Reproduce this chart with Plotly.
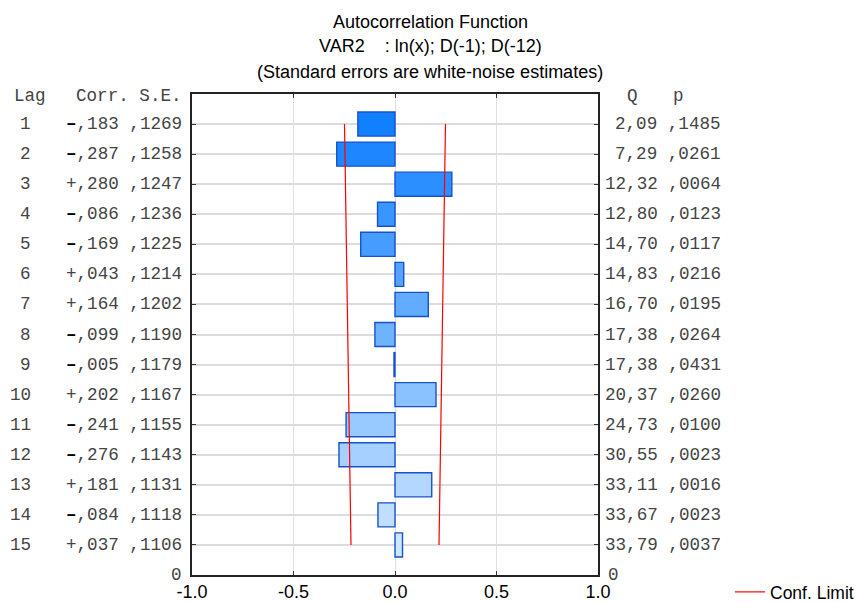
import plotly.graph_objects as go

lags = list(range(1, 16))
corr = [-0.183, -0.287, 0.280, -0.086, -0.169, 0.043, 0.164, -0.099, -0.005, 0.202,
        -0.241, -0.276, 0.181, -0.084, 0.037]
corr_text = ["-,183", "-,287", "+,280", "-,086", "-,169", "+,043", "+,164", "-,099", "-,005", "+,202",
             "-,241", "-,276", "+,181", "-,084", "+,037"]
se = [0.1269, 0.1258, 0.1247, 0.1236, 0.1225, 0.1214, 0.1202, 0.1190, 0.1179, 0.1167,
      0.1155, 0.1143, 0.1131, 0.1118, 0.1106]
se_text = [",1269", ",1258", ",1247", ",1236", ",1225", ",1214", ",1202", ",1190", ",1179", ",1167",
           ",1155", ",1143", ",1131", ",1118", ",1106"]
q_text = ["2,09", "7,29", "12,32", "12,80", "14,70", "14,83", "16,70", "17,38", "17,38", "20,37",
          "24,73", "30,55", "33,11", "33,67", "33,79"]
p_text = [",1485", ",0261", ",0064", ",0123", ",0117", ",0216", ",0195", ",0264", ",0431", ",0260",
          ",0100", ",0023", ",0016", ",0023", ",0037"]
x_ticks = [-1.0, -0.5, 0.0, 0.5, 1.0]
x_tick_labels = ["-1.0", "-0.5", "0.0", "0.5", "1.0"]

W, H = 858, 603
# plot-area geometry in page px
L, R, T, B = 192, 598, 94, 575

def px(x):
    return (x - L) / (R - L)

def py(y):
    return (B - y) / (B - T)

# bar colors: gradient dark -> light
c0 = (16, 128, 255)
c1 = (206, 230, 255)
n = len(lags)
colors = []
for i in range(n):
    t = i / (n - 1)
    c = tuple(round(c0[k] + (c1[k] - c0[k]) * t) for k in range(3))
    colors.append("rgb(%d,%d,%d)" % c)

fig = go.Figure()
fig.add_trace(go.Bar(
    x=corr, y=lags, orientation="h", width=0.8,
    marker=dict(color=colors, line=dict(color="#1652cc", width=1.4)),
    showlegend=False, hoverinfo="skip",
))

conf = [1.96 * s for s in se]
fig.add_trace(go.Scatter(x=[-c for c in conf], y=lags, mode="lines",
                         line=dict(color="red", width=1.2), name="Conf. Limit", showlegend=True))
fig.add_trace(go.Scatter(x=conf, y=lags, mode="lines",
                         line=dict(color="red", width=1.2), name="Conf. Limit", showlegend=False))

mono = dict(family="Liberation Mono, Courier New, monospace", size=17.6, color="#444")
sans = "Liberation Sans, Arial, sans-serif"

def fmt_sign(s):
    if s.startswith("-"):
        return "<span style='color:black'><b>\u2013</b></span>" + s[1:]
    return s

ann = []
# headers
ann.append(dict(x=px(12), y=py(96), text="Lag", xanchor="left"))
ann.append(dict(x=px(184), y=py(96), text="Corr. S.E.", xanchor="right"))
ann.append(dict(x=px(632), y=py(96), text="Q", xanchor="center"))
ann.append(dict(x=px(678), y=py(96), text="p", xanchor="center"))
for i, lag in enumerate(lags):
    ann.append(dict(x=px(33), y=lag, yref="y", text=str(lag), xanchor="right"))
    ann.append(dict(x=px(184), y=lag, yref="y", text=fmt_sign(corr_text[i]) + " " + se_text[i],
                    xanchor="right"))
    ann.append(dict(x=px(723), y=lag, yref="y", text=q_text[i] + " " + p_text[i], xanchor="right"))
ann.append(dict(x=px(184), y=16, yref="y", text="0", xanchor="right"))
ann.append(dict(x=px(606), y=16, yref="y", text="0", xanchor="left"))
annotations = []
for a in ann:
    d = dict(xref="paper", yref=a.get("yref", "paper"), showarrow=False, yanchor="middle",
             font=mono)
    d.update(a)
    annotations.append(d)

titles = [("Autocorrelation Function", 22), ("VAR2    : ln(x); D(-1); D(-12)", 46),
          ("(Standard errors are white-noise estimates)", 72)]
for txt, yy in titles:
    annotations.append(dict(xref="paper", yref="paper", x=px(430), y=py(yy), text=txt,
                            showarrow=False, xanchor="center", yanchor="middle",
                            font=dict(family=sans, size=18, color="black")))

fig.update_layout(
    width=W, height=H,
    margin=dict(l=L, r=W - R, t=T, b=H - B, pad=0, autoexpand=False),
    paper_bgcolor="white", plot_bgcolor="white",
    annotations=annotations,
    bargap=0.2,
    xaxis=dict(range=[-1, 1], tickvals=x_ticks, ticktext=x_tick_labels,
               showgrid=True, gridcolor="#e0e0e0", gridwidth=1, zeroline=False,
               showline=True, linecolor="#222", linewidth=1.5, mirror="ticks",
               ticks="inside", ticklen=4, tickcolor="#333",
               tickfont=dict(family=sans, size=18, color="black")),
    yaxis=dict(range=[16, 0], tickvals=lags, showticklabels=False,
               showgrid=True, gridcolor="#dcdcdc", gridwidth=2, zeroline=False,
               showline=True, linecolor="#222", linewidth=1.5, mirror="ticks",
               ticks="inside", ticklen=4, tickcolor="#333"),
    legend=dict(x=px(730), y=py(592), xanchor="left", yanchor="middle",
                font=dict(family=sans, size=17.5, color="black"), bgcolor="rgba(0,0,0,0)",
                borderwidth=0, itemwidth=30),
    showlegend=True,
)

fig.write_html("out.html", config={"displayModeBar": False},
               post_script="document.body.style.margin='0';document.body.style.overflow='hidden';")
